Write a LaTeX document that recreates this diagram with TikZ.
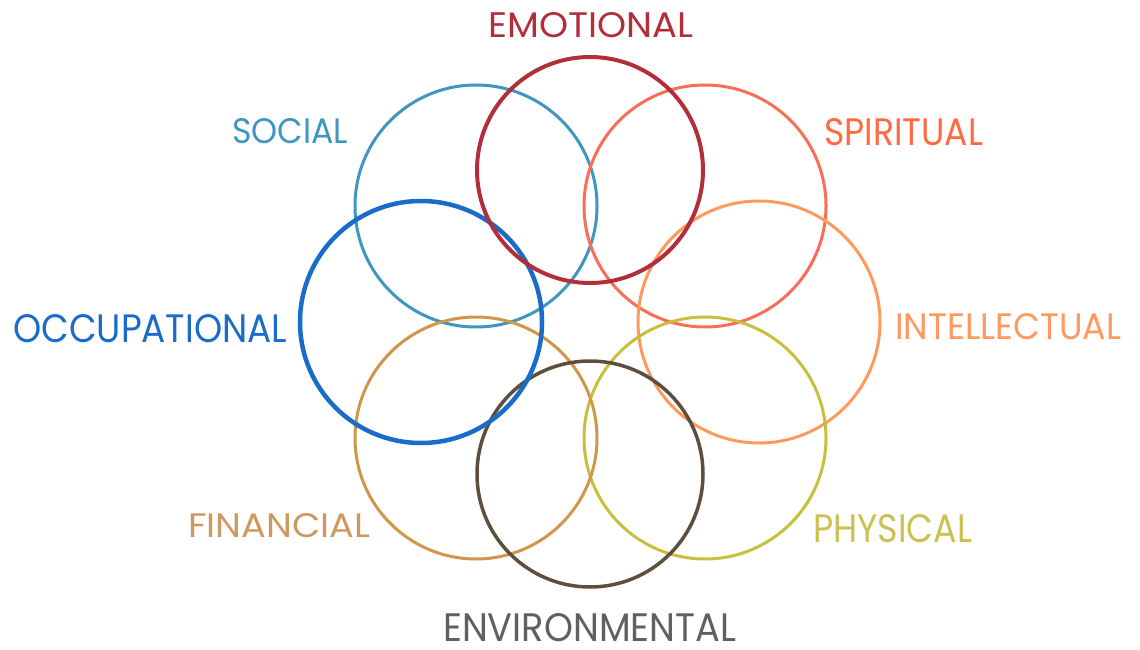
\documentclass[tikz,border=0pt]{standalone}
\usepackage{graphicx}
\usepackage{fontspec}
\setmainfont{Poppins}
\definecolor{cEmo}{RGB}{178,46,58}
\definecolor{cSpi}{RGB}{250,110,88}
\definecolor{tSpi}{RGB}{255,106,68}
\definecolor{cInt}{RGB}{255,154,94}
\definecolor{cPhy}{RGB}{200,192,60}
\definecolor{tPhy}{RGB}{204,192,80}
\definecolor{cEnv}{RGB}{94,78,62}
\definecolor{tEnv}{RGB}{96,96,96}
\definecolor{cFin}{RGB}{208,150,74}
\definecolor{tFin}{RGB}{204,154,96}
\definecolor{cOcc}{RGB}{26,108,200}
\definecolor{cSoc}{RGB}{63,150,190}
\newcommand{\fitlbl}[3]{\resizebox{#1pt}{#2pt}{#3}}
\tikzset{
  ring/.style={circle, draw, inner sep=0pt, minimum size=#1},
  lbl/.style={inner sep=0pt, anchor=base west}
}
\begin{document}
\begin{tikzpicture}[x=1pt, y=-1pt]
\useasboundingbox (0,0) rectangle (1140,650);
% circles
\node[ring=242pt, cSoc, line width=3pt] (social) at (476,206) {};
\node[ring=242pt, cSpi, line width=3pt] (spiritual) at (705,206) {};
\node[ring=242pt, cInt, line width=3pt] (intellectual) at (759,322) {};
\node[ring=242pt, cPhy, line width=3pt] (physical) at (705,438) {};
\node[ring=242pt, cFin, line width=3pt] (financial) at (476,438) {};
\node[ring=226pt, cEnv, line width=3.5pt] (environmental) at (590,474) {};
\node[ring=242pt, cOcc, line width=4.5pt] (occupational) at (421,322) {};
\node[ring=226pt, cEmo, line width=4pt] (emotional) at (590,170) {};
% labels
\node[lbl, text=cEmo] (tEmo) at (488,38) {\fitlbl{205}{25}{EMOTIONAL}};
\node[lbl, text=cSoc] (tSoc) at (232,143) {\fitlbl{116}{25}{SOCIAL}};
\node[lbl, text=tSpi] (tSpir) at (824,145) {\fitlbl{159}{27}{SPIRITUAL}};
\node[lbl, text=cOcc] (tOcc) at (13,342) {\fitlbl{274}{28}{OCCUPATIONAL}};
\node[lbl, text=cInt] (tInt) at (895,339) {\fitlbl{226}{26}{INTELLECTUAL}};
\node[lbl, text=tFin] (tFinan) at (188,537) {\fitlbl{182}{24}{FINANCIAL}};
\node[lbl, text=tPhy] (tPhys) at (813,542) {\fitlbl{159}{28}{PHYSICAL}};
\node[lbl, text=tEnv] (tEnvi) at (443,641) {\fitlbl{293}{28}{ENVIRONMENTAL}};
\end{tikzpicture}
\end{document}
